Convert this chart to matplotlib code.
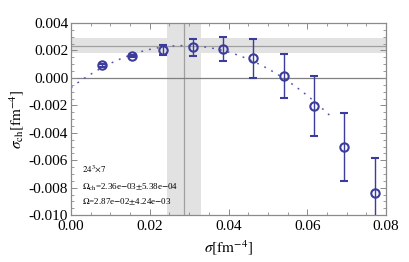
import matplotlib
matplotlib.use("Agg")
import matplotlib.pyplot as plt
import numpy as np
from matplotlib.ticker import MultipleLocator, FormatStrFormatter

plt.rcParams['font.family'] = ['Liberation Serif', 'DejaVu Serif']
plt.rcParams['mathtext.fontset'] = 'stix'

# data
sigma = [0.0078, 0.0155, 0.0233, 0.0309, 0.0385, 0.0462, 0.0540, 0.0617, 0.0693, 0.0771]
sigma_ch = [0.00092, 0.00159, 0.00203, 0.00225, 0.00208, 0.00145, 0.00013, -0.00205, -0.00504, -0.00842]
err = [0.00012, 0.00010, 0.00039, 0.00062, 0.00088, 0.00142, 0.00161, 0.00218, 0.00248, 0.00255]

# fit parameters
omega_ch, omega_ch_err = 2.36e-03, 5.38e-04
omega, omega_err = 2.87e-02, 4.24e-03
curv = 3.72
fit_end = 0.066

blue = '#3c3c9c'
frame = '#8a8a8a'

fig = plt.figure(figsize=(4.09, 2.62), dpi=100)
ax = fig.add_axes([0.1736, 0.179, 0.7702, 0.733])

ax.axhspan(omega_ch - omega_ch_err, omega_ch + omega_ch_err, color='#e2e2e2', lw=0, zorder=0)
ax.axvspan(omega - omega_err, omega + omega_err, color='#e2e2e2', lw=0, zorder=0)
ax.axhline(omega_ch, color='#a0a0a0', lw=0.9, zorder=1)
ax.axvline(omega, color='#a0a0a0', lw=0.9, zorder=1)
ax.axhline(0.0, color='#808080', lw=0.9, zorder=1)

xs = np.linspace(0, fit_end, 200)
ax.plot(xs, omega_ch - curv * (xs - omega) ** 2, color='#5656b0',
        lw=1.1, ls=(0, (1.2, 4.0)), zorder=2)

ax.errorbar(sigma, sigma_ch, yerr=err, fmt='o', ms=6, mfc='none', mec=blue,
            mew=1.5, ecolor=blue, elinewidth=1.0, capsize=3, capthick=0.9, zorder=3)

ax.set_xlim(0, 0.08)
ax.set_ylim(-0.010, 0.004)
ax.xaxis.set_major_locator(MultipleLocator(0.02))
ax.xaxis.set_minor_locator(MultipleLocator(0.005))
ax.yaxis.set_major_locator(MultipleLocator(0.002))
ax.yaxis.set_minor_locator(MultipleLocator(0.0005))
ax.xaxis.set_major_formatter(FormatStrFormatter('%.2f'))
ax.yaxis.set_major_formatter(FormatStrFormatter('%.3f'))
ax.tick_params(which='both', direction='in', top=True, right=True, color=frame,
               labelsize=11, pad=2)
ax.tick_params(which='major', length=4, width=0.7)
ax.tick_params(which='minor', length=2, width=0.6)
ax.tick_params(axis='x', pad=3.5)
for s in ax.spines.values():
    s.set_color(frame)
    s.set_linewidth(0.9)

ax.set_xlabel(r'$\sigma[{\rm fm}^{-4}]$', fontsize=11, labelpad=4)
ax.set_ylabel(r'$\sigma_{\rm ch}[{\rm fm}^{-4}]$', fontsize=11, labelpad=2)

ax.text(0.035, 0.225, r'$24^3\!\times\!7$', transform=ax.transAxes, fontsize=6.5)
ax.text(0.035, 0.13, r'$\Omega_{\rm ch}$=2.36e$-$03$\pm$5.38e$-$04', transform=ax.transAxes, fontsize=6.5)
ax.text(0.035, 0.055, r'$\Omega$=2.87e$-$02$\pm$4.24e$-$03', transform=ax.transAxes, fontsize=6.5)

fig.savefig('out.png', dpi=100)
